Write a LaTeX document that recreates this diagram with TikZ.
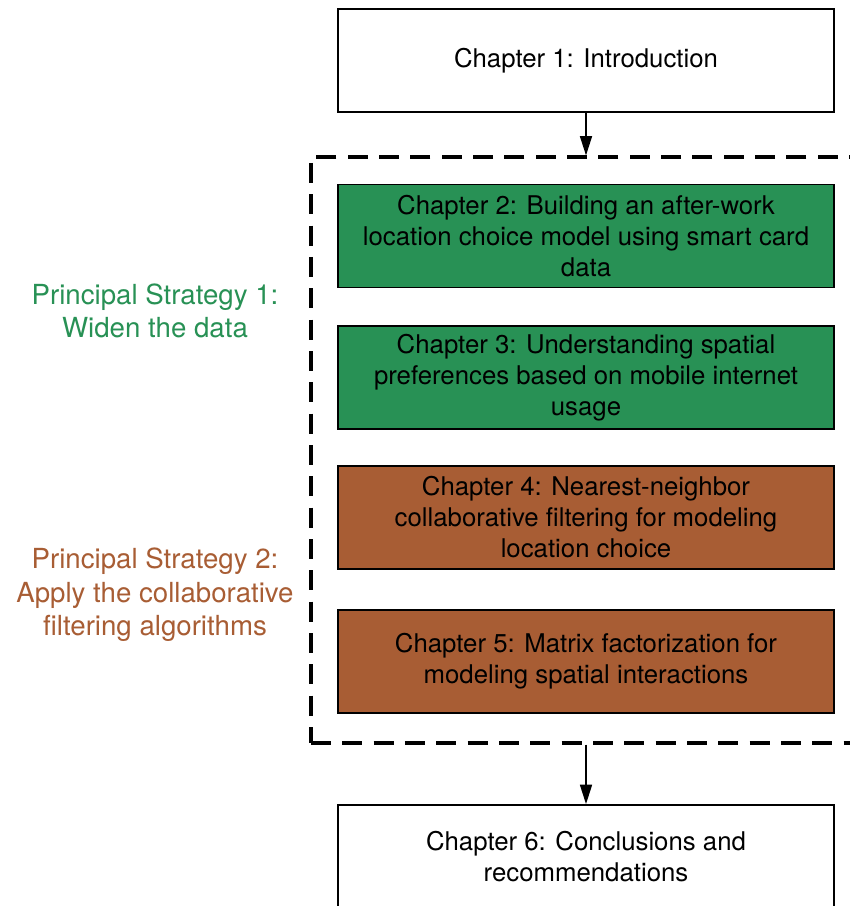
\documentclass[tikz,border=0pt]{standalone}
\usepackage{fontspec}
\setmainfont{TeX Gyre Heros}
\usepackage{xcolor}
\usetikzlibrary{calc,arrows.meta}

\definecolor{wideGreen}{RGB}{40,145,85}
\definecolor{cfBrown}{RGB}{168,93,52}

\tikzset{
  chapbox/.style={draw,line width=1.3pt,minimum width=14.88cm,minimum height=3.1cm,
                  align=center,inner sep=0pt,font=\fontsize{22}{26.5}\selectfont},
  stratlabel/.style={align=center,font=\fontsize{23.6}{28.5}\selectfont},
}

\begin{document}
\begin{tikzpicture}[>={Triangle[width=0.36cm,length=0.58cm]},x=0.03cm,y=-0.03cm]
    \useasboundingbox (0,0) rectangle (850,906);

    % Chapter boxes
    \node (CH1) at (586,60.5) [chapbox,fill=white] {Chapter 1: Introduction};

    \node (CH2) at (586,236) [chapbox,fill=wideGreen] {Chapter 2: Building an after-work\\location choice model using smart card\\data};
    \node (CH3) at (586,377.5) [chapbox,fill=wideGreen] {Chapter 3: Understanding spatial\\preferences based on mobile internet\\usage};

    \node (CH4) at (586,517.5) [chapbox,fill=cfBrown] {Chapter 4: Nearest-neighbor\\collaborative filtering for modeling\\location choice};
    \node (CH5) at (586,661.5) [chapbox,fill=cfBrown] {Chapter 5: Matrix factorization for\\modeling spatial interactions};

    \node (CH6) at (586,856.5) [chapbox,fill=white] {Chapter 6: Conclusions and\\recommendations};

    % Dashed group round chapters 2 to 5
    \node (CORE) at (586,450) [draw,line width=2.6pt,dash pattern=on 0.6cm off 0.34cm,
                               minimum width=16.5cm,minimum height=17.58cm] {};

    % Strategy labels
    \node (PS1) at (155,311) [stratlabel,text=wideGreen] {Principal Strategy 1:\\Widen the data};
    \node (PS2) at (155,595) [stratlabel,text=cfBrown] {Principal Strategy 2:\\Apply the collaborative\\filtering algorithms};

    % Arrows
    \draw [->,line width=1.3pt] (CH1.south) -- (CH1.south |- CORE.north);
    \draw [->,line width=1.3pt] (CH6.north |- CORE.south) -- (CH6.north);
\end{tikzpicture}
\end{document}
